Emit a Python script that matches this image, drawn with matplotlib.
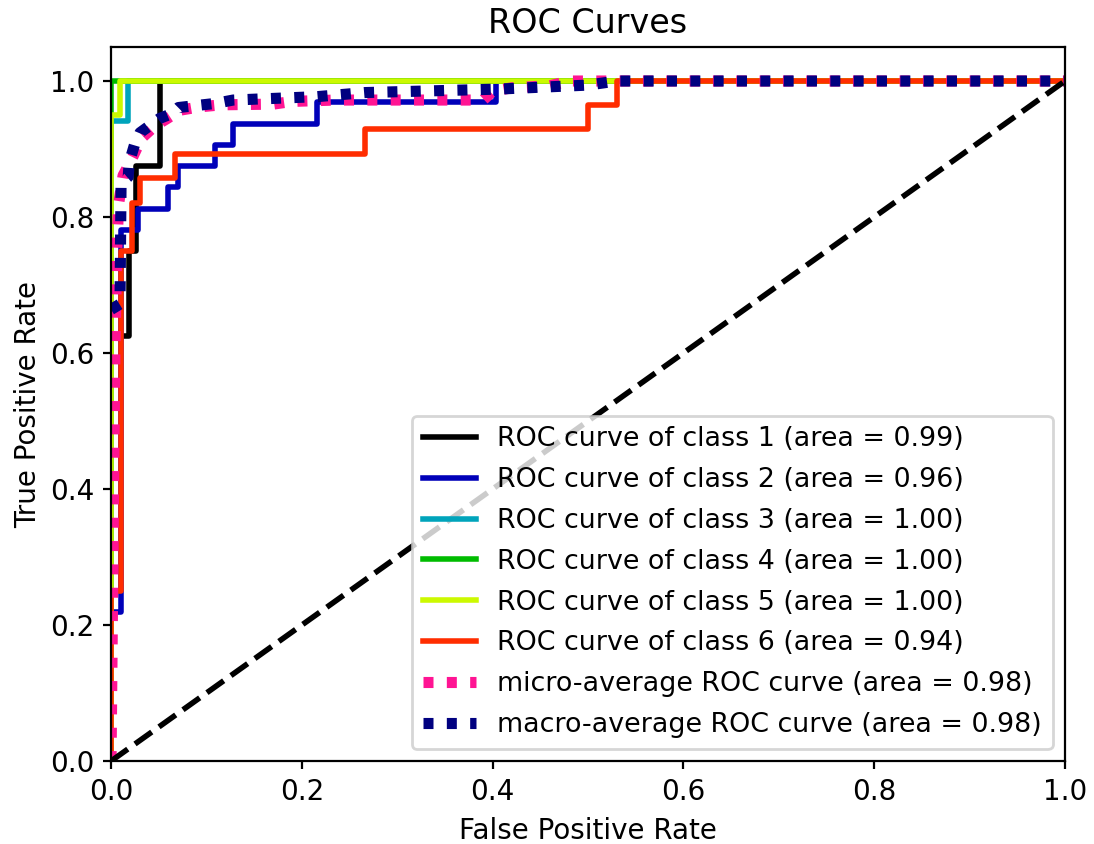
import numpy as np
import matplotlib
matplotlib.use("Agg")
import matplotlib.pyplot as plt

# Per-class ROC curves (false positive rate / true positive rate)
class_names = ["1", "2", "3", "4", "5", "6"]
class_areas = [0.99, 0.96, 1.00, 1.00, 1.00, 0.94]

fpr_1 = [0.0, 0.0, 0.019, 0.019, 0.026, 0.026, 0.051, 0.051, 1.0]
tpr_1 = [0.0, 0.625, 0.625, 0.75, 0.75, 0.875, 0.875, 1.0, 1.0]

fpr_2 = [0.0, 0.0, 0.0105, 0.0105, 0.0286, 0.0286, 0.060, 0.060, 0.0706, 0.0706,
         0.109, 0.109, 0.128, 0.128, 0.216, 0.216, 0.404, 0.404, 1.0]
tpr_2 = [0.0, 0.219, 0.219, 0.781, 0.781, 0.8125, 0.8125, 0.844, 0.844, 0.875,
         0.875, 0.906, 0.906, 0.9375, 0.9375, 0.969, 0.969, 1.0, 1.0]

fpr_3 = [0.0, 0.0, 0.018, 0.018, 1.0]
tpr_3 = [0.0, 0.941, 0.941, 1.0, 1.0]

fpr_4 = [0.0, 0.0, 1.0]
tpr_4 = [0.0, 1.0, 1.0]

fpr_5 = [0.0, 0.0, 0.0094, 0.0094, 1.0]
tpr_5 = [0.0, 0.95, 0.95, 1.0, 1.0]

fpr_6 = [0.0, 0.0, 0.010, 0.010, 0.0216, 0.0216, 0.0304, 0.0304, 0.067, 0.067,
         0.266, 0.266, 0.500, 0.500, 0.530, 0.530, 1.0]
tpr_6 = [0.0, 0.25, 0.25, 0.75, 0.75, 0.821, 0.821, 0.857, 0.857, 0.893,
         0.893, 0.929, 0.929, 0.964, 0.964, 1.0, 1.0]

# Averaged curves
micro_area = 0.98
micro_fpr = [0.0, 0.002, 0.004, 0.006, 0.008, 0.0126, 0.018, 0.023, 0.032, 0.046,
             0.059, 0.072, 0.093, 0.116, 0.170, 0.190, 0.235, 0.390, 0.400,
             0.420, 0.460, 0.480, 1.0]
micro_tpr = [0.0, 0.30, 0.60, 0.75, 0.82, 0.861, 0.875, 0.889, 0.916, 0.934,
             0.945, 0.957, 0.962, 0.965, 0.966, 0.970, 0.972, 0.972, 0.985,
             0.990, 0.993, 1.0, 1.0]

macro_area = 0.98
macro_fpr = [0.0, 0.0094, 0.0105, 0.018, 0.019, 0.0216, 0.026, 0.0286, 0.0304,
             0.051, 0.060, 0.067, 0.0706, 0.109, 0.128, 0.216, 0.266, 0.404,
             0.500, 0.530, 1.0]
macro_tpr = [0.664, 0.672, 0.850, 0.859, 0.880, 0.892, 0.913, 0.918, 0.924,
             0.945, 0.950, 0.956, 0.961, 0.967, 0.972, 0.977, 0.983, 0.988,
             0.994, 1.0, 1.0]

class_fpr = [fpr_1, fpr_2, fpr_3, fpr_4, fpr_5, fpr_6]
class_tpr = [tpr_1, tpr_2, tpr_3, tpr_4, tpr_5, tpr_6]

dpi = 200
fig = plt.figure(figsize=(1094 / dpi, 844 / dpi), dpi=dpi)
ax = fig.add_axes([0.1015, 0.0983, 0.872, 0.846])

cmap = plt.get_cmap("nipy_spectral")
n = len(class_names)
for i in range(n):
    ax.plot(class_fpr[i], class_tpr[i], lw=2, color=cmap(float(i) / n),
            label="ROC curve of class {0} (area = {1:0.2f})".format(
                class_names[i], class_areas[i]))

dots = (0, (0.9, 1.2))
ax.plot(micro_fpr, micro_tpr, color="deeppink", linestyle=dots, linewidth=4,
        label="micro-average ROC curve (area = {0:0.2f})".format(micro_area))
ax.plot(macro_fpr, macro_tpr, color="navy", linestyle=dots, linewidth=4,
        label="macro-average ROC curve (area = {0:0.2f})".format(macro_area))

ax.plot([0, 1], [0, 1], "k--", lw=2)
ax.set_xlim([0.0, 1.0])
ax.set_ylim([0.0, 1.05])
ax.set_title("ROC Curves", fontsize="large", pad=5)
ax.set_xlabel("False Positive Rate", fontsize="medium", labelpad=4)
ax.set_ylabel("True Positive Rate", fontsize="medium", labelpad=3)
ax.tick_params(labelsize="medium", length=3, pad=3)
ax.legend(loc="lower right", fontsize=9.7, labelspacing=0.55,
          borderaxespad=0.45, handlelength=1.97)

fig.savefig("out.png", dpi=dpi)
